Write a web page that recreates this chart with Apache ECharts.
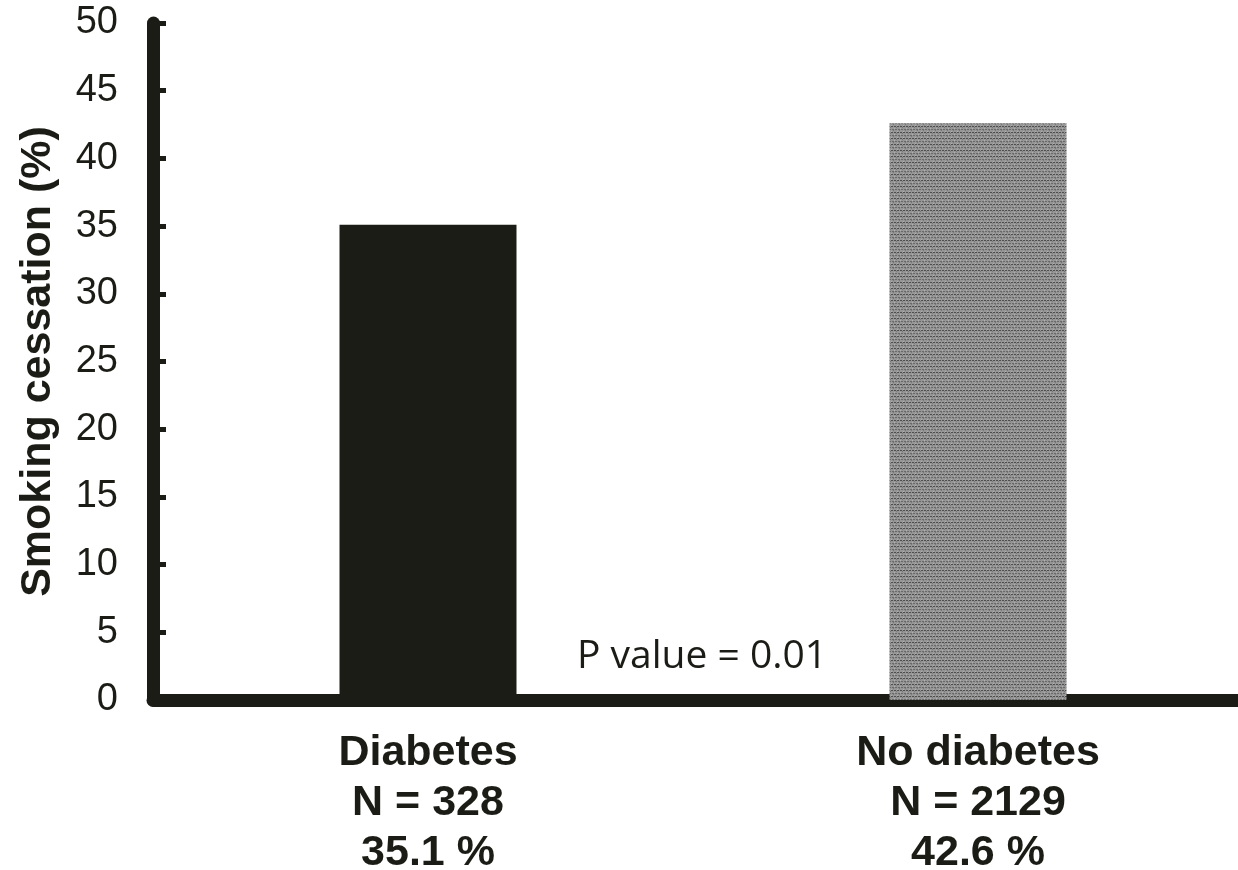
<!DOCTYPE html>
<html>
<head>
<meta charset="utf-8">
<script src="https://cdn.jsdelivr.net/npm/echarts@6/dist/echarts.min.js"></script>
<style>html,body{margin:0;padding:0;background:#fff}#c{width:1238px;height:870px}</style>
</head>
<body>
<div id="c"></div>
<script>
const categories = ['Diabetes\nN = 328\n35.1 %', 'No diabetes\nN = 2129\n42.6 %'];
const values = [35.1, 42.6];
const yTicks = [0, 5, 10, 15, 20, 25, 30, 35, 40, 45, 50];
const yAxisTitle = 'Smoking cessation (%)';
const note = 'P value = 0.01';

function makePattern() {
  const c = document.createElement('canvas');
  c.width = 6; c.height = 6;
  const g = c.getContext('2d');
  g.fillStyle = '#969696'; g.fillRect(0, 0, 6, 6);
  g.fillStyle = '#4e4e4e';
  g.fillRect(0, 0, 2, 1); g.fillRect(3, 0, 2, 1);
  g.fillStyle = '#6a6a6a';
  g.fillRect(1, 3, 2, 1); g.fillRect(4, 3, 2, 1);
  g.fillStyle = '#777';
  g.fillRect(2, 1, 1, 1); g.fillRect(5, 4, 1, 1);
  g.fillStyle = '#b0b0b0';
  g.fillRect(0, 2, 1, 1); g.fillRect(3, 5, 1, 1);
  return c;
}

const chart = echarts.init(document.getElementById('c'));
const ink = '#1c1c17';
chart.setOption({
  animation: false,
  grid: { left: 153, right: -15, top: 23, bottom: 170, outerBoundsMode: 'none', containLabel: false },
  xAxis: {
    type: 'category',
    data: categories,
    axisLine: { lineStyle: { color: ink, width: 13 } },
    axisTick: { show: false },
    axisLabel: {
      margin: 28,
      color: ink,
      fontFamily: 'Liberation Sans',
      fontWeight: 'bold',
      fontSize: 43,
      lineHeight: 50
    }
  },
  yAxis: {
    type: 'value',
    min: yTicks[0],
    max: yTicks[yTicks.length - 1],
    interval: yTicks[1] - yTicks[0],
    name: yAxisTitle,
    nameLocation: 'middle',
    nameGap: 93,
    nameTextStyle: { color: ink, fontFamily: 'Liberation Sans', fontWeight: 'bold', fontSize: 43 },
    axisLine: { show: true, lineStyle: { color: ink, width: 13 } },
    axisTick: { show: true, inside: true, length: 13, lineStyle: { color: ink, width: 5 } },
    splitLine: { show: false },
    axisLabel: {
      margin: 35,
      color: ink,
      fontFamily: 'Liberation Sans',
      fontSize: 38
    }
  },
  series: [{
    type: 'bar',
    barWidth: 177,
    data: [
      { value: values[0], itemStyle: { color: ink } },
      { value: values[1], itemStyle: { color: { image: makePattern(), repeat: 'repeat' } } }
    ]
  }],
  graphic: [{
    type: 'text',
    left: 577,
    top: 637,
    style: {
      text: note,
      fill: ink,
      font: '39px "Open Sans"'
    }
  }]
});
</script>
</body>
</html>
